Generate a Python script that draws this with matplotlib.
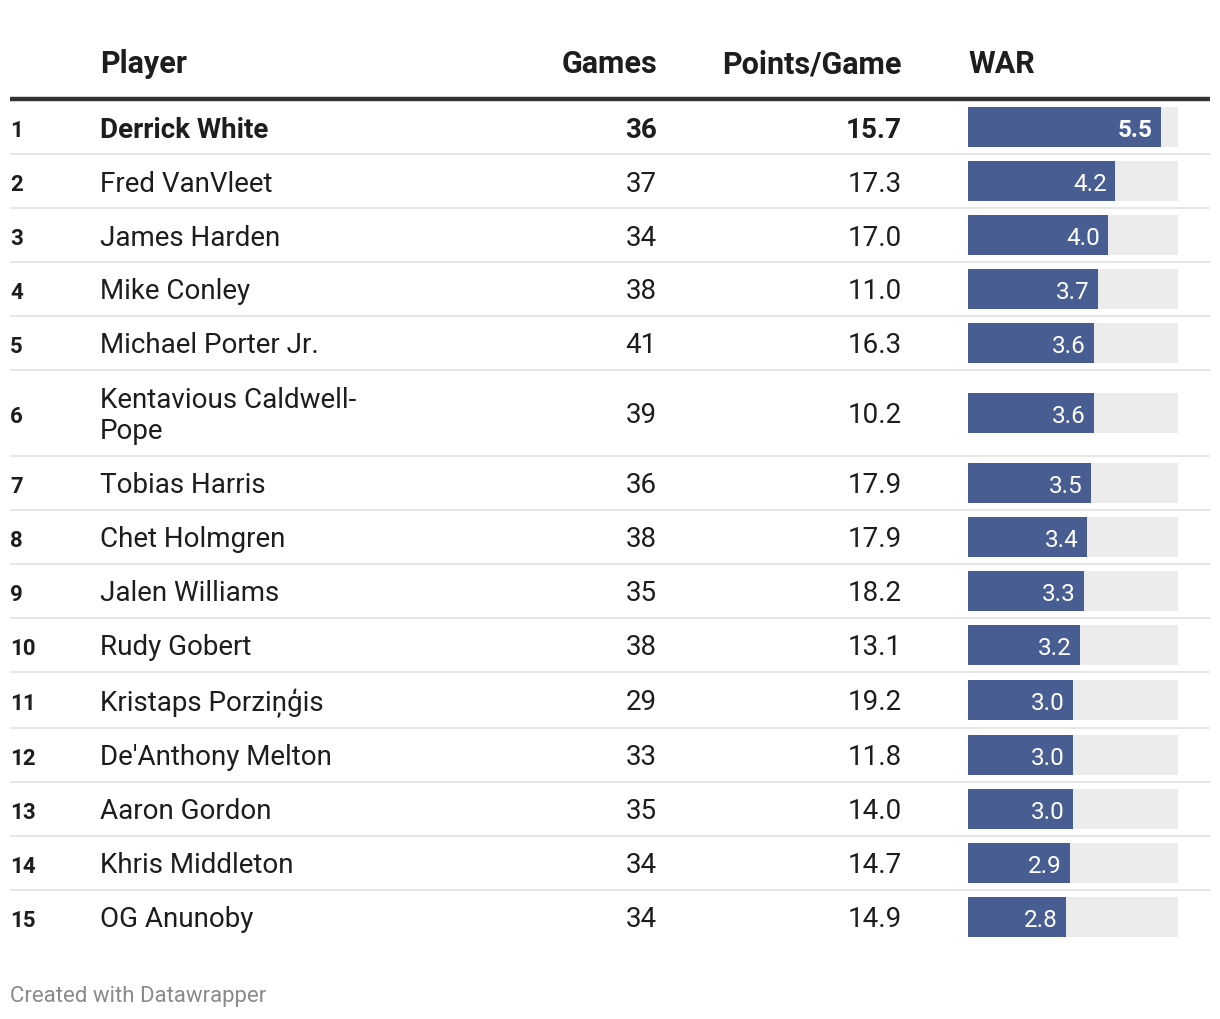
import matplotlib.pyplot as plt

plt.rcParams['font.family'] = ['Roboto', 'DejaVu Sans']

# table data
ranks = list(range(1, 16))
players = ['Derrick White', 'Fred VanVleet', 'James Harden', 'Mike Conley',
           'Michael Porter Jr.', 'Kentavious Caldwell-\nPope', 'Tobias Harris',
           'Chet Holmgren', 'Jalen Williams', 'Rudy Gobert', 'Kristaps Porziņģis',
           "De'Anthony Melton", 'Aaron Gordon', 'Khris Middleton', 'OG Anunoby']
games = [36, 37, 34, 38, 41, 39, 36, 38, 35, 38, 29, 33, 35, 34, 34]
ppg = [15.7, 17.3, 17.0, 11.0, 16.3, 10.2, 17.9, 17.9, 18.2, 13.1, 19.2, 11.8, 14.0, 14.7, 14.9]
war = [5.5, 4.2, 4.0, 3.7, 3.6, 3.6, 3.5, 3.4, 3.3, 3.2, 3.0, 3.0, 3.0, 2.9, 2.8]
war_max = 6
headers = ['Player', 'Games', 'Points/Game', 'WAR']

# layout in pixels (figure is 1220 x 1020)
W, H = 1220, 1020
row_h = [54, 54, 54, 54, 54, 86, 54, 54, 54, 54, 56, 54, 54, 54, 54]
top = 101
edges = [top]
for h in row_h:
    edges.append(edges[-1] + h)
centers = [(a + b) / 2 for a, b in zip(edges[:-1], edges[1:])]

text_c = '#1d1d1d'
bar_c = '#485d92'
bg_c = '#ececec'
fs = 20

fig = plt.figure(figsize=(W / 100, H / 100), dpi=100)
ax = fig.add_axes([0, 0, 1, 1])
ax.set_xlim(0, W)
ax.set_ylim(H, 0)
ax.axis('off')

# headers
hy = 64
ax.text(100, hy, headers[0], fontsize=22, fontweight='bold', color=text_c, va='center', ha='left')
ax.text(657, hy, headers[1], fontsize=22, fontweight='bold', color=text_c, va='center', ha='right')
ax.text(902, hy, headers[2], fontsize=22, fontweight='bold', color=text_c, va='center', ha='right')
ax.text(968, hy, headers[3], fontsize=22, fontweight='bold', color=text_c, va='center', ha='left')
ax.plot([10, 1210], [top - 1, top - 1], color='#333333', lw=3.2, solid_capstyle='butt')

# separators
for e in edges[1:-1]:
    ax.plot([10, 1210], [e, e], color='#e6e6e6', lw=1.5, solid_capstyle='butt')

for i in range(len(players)):
    y = centers[i] + 2
    wt = 'bold' if i == 0 else 'normal'
    ax.text(10, y + 1, str(ranks[i]), fontsize=16, fontweight='bold', color=text_c, va='center', ha='left')
    ax.text(100, y, players[i], fontsize=fs, fontweight=wt, color=text_c, va='center', ha='left',
            linespacing=1.15)
    ax.text(657, y, str(games[i]), fontsize=fs, fontweight=wt, color=text_c, va='center', ha='right')
    ax.text(902, y, f'{ppg[i]:.1f}', fontsize=fs, fontweight=wt, color=text_c, va='center', ha='right')

# bar column
bx = ax.inset_axes([968, 0, 210, H], transform=ax.transData)
bx.set_xlim(0, war_max)
bx.set_ylim(H, 0)
bx.axis('off')
bx.barh(centers, [war_max] * len(war), height=40, color=bg_c, left=0)
bx.barh(centers, war, height=40, color=bar_c, left=0)
for i, v in enumerate(war):
    wt = 'bold' if i == 0 else 'normal'
    bx.annotate(f'{v:.1f}', (v, centers[i]), xytext=(-6, -1.5), textcoords='offset points',
                fontsize=17.5, fontweight=wt, color='white', va='center', ha='right')

ax.text(10, 997, 'Created with Datawrapper', fontsize=16, color='#8a8a8a', va='center', ha='left')

fig.savefig('out.png', dpi=100)
